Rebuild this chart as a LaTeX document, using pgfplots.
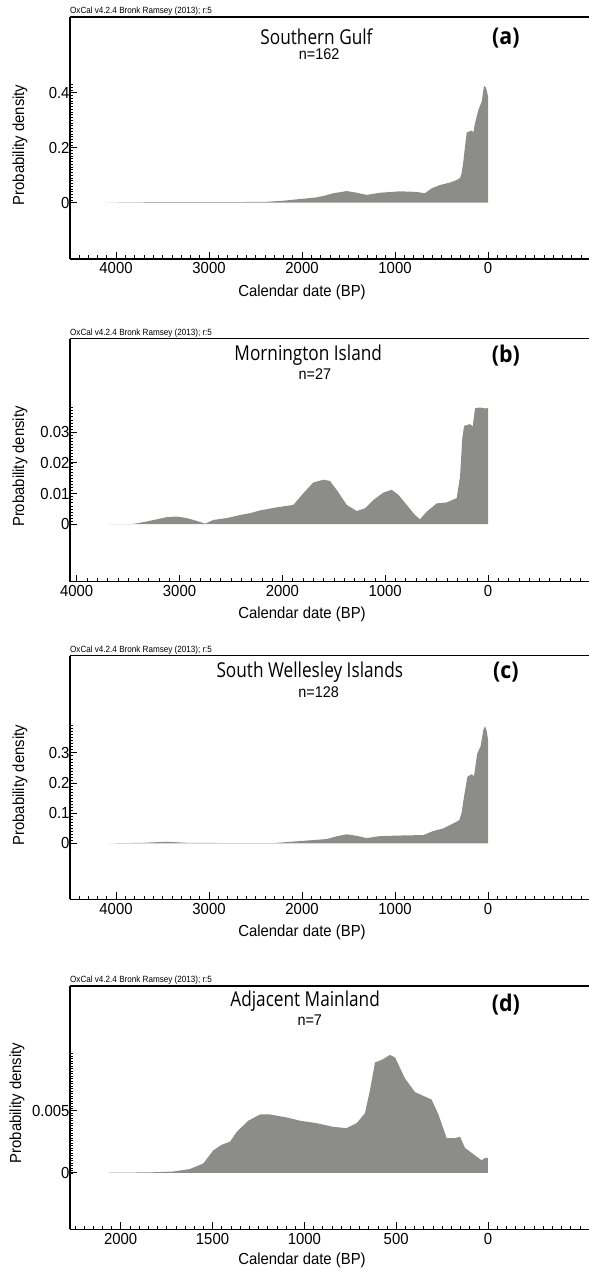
\documentclass[border=0pt]{standalone}
\usepackage{fontspec}
\setmainfont{Liberation Sans}
\newfontfamily\titlefont{Open Sans}
\usepackage{pgfplots}
\pgfplotsset{compat=1.18}
\definecolor{fillgray}{RGB}{140,141,139}
\newcommand{\sq}[1]{\scalebox{0.93}[1]{#1}}
\newcommand{\sqt}[1]{\scalebox{0.84}[1]{#1}}
\pgfplotsset{oxstyle/.style={
  scale only axis, width=519pt,
  x dir=reverse,
  scaled x ticks=false, scaled y ticks=false,
  axis x line=bottom, axis y line=left,
  axis line style={-, line width=1.3pt, black},
  tick align=inside,
  major tick length=7pt, minor tick length=3.5pt,
  every tick/.style={black, line width=0.8pt},
  every minor tick/.append style={line width=0.5pt},
  tick label style={font=\fontsize{16}{16}\selectfont},
  label style={font=\fontsize{16}{16}\selectfont},
  yticklabel style={xshift=3pt},
  xlabel={\sq{Calendar date (BP)}},
  ylabel={\sq{Probability density}},
  xlabel style={at={(axis description cs:0.447,0)}, anchor=center, yshift=-33pt},
  clip=false,
}}
\newcommand{\oxcal}{\node[anchor=south west, inner sep=0pt, font=\fontsize{9}{9}\selectfont] at (axis description cs:0,1) [yshift=1.2pt] {\scalebox{0.9}[1]{OxCal v4.2.4 Bronk Ramsey (2013); r:5}};}
\begin{document}
\begin{tikzpicture}
\useasboundingbox (0,0) rectangle (589pt,1270pt);
% (a)
\begin{axis}[oxstyle, at={(70pt,1011pt)}, anchor=south west, height=242pt,
  xmin=-1086, xmax=4495, ymin=-0.205, ymax=0.675,
  xtick={0,1000,2000,3000,4000}, xticklabels={\sq{0},\sq{1000},\sq{2000},\sq{3000},\sq{4000}},
  minor xtick={-1000,-900,...,4400},
  ytick={0,0.2,0.4}, yticklabels={\sq{0},\sq{0.2},\sq{0.4}},
  minor ytick={0,0.01,...,0.43},
  ylabel style={at={(axis description cs:-0.0963,0.471)}, anchor=center},
]
\addplot[draw=none, fill=fillgray] coordinates {
(4100,0) (3800,0.001) (3500,0.002) (3000,0.002) (2700,0.002) (2380,0.003) (2200,0.007) (2021,0.013) (1842,0.019) (1750,0.026) (1663,0.034) (1520,0.042) (1412,0.036) (1305,0.028) (1161,0.036) (946,0.041) (767,0.039) (677,0.034) (606,0.052) (516,0.064) (409,0.073) (337,0.082) (300,0.09) (283,0.107) (265,0.15) (247,0.204) (229,0.255) (176,0.262) (158,0.255) (140,0.288) (104,0.337) (68,0.367) (43,0.424) (22,0.419) (8,0.40) (0,0.385)
} \closedcycle;
\draw[line width=1.3pt] (axis description cs:0,1) -- (axis description cs:1,1);
\oxcal
\node[anchor=base, font=\titlefont\fontsize{20.5}{20}\selectfont] at (axis description cs:0.475,1) [yshift=-27.3pt] {\sqt{Southern Gulf}};
\node[anchor=base, font=\fontsize{15.5}{16}\selectfont] at (axis description cs:0.48,1) [yshift=-42.7pt] {\sq{n=162}};
\node[anchor=base, font=\titlefont\bfseries\fontsize{23}{23}\selectfont] at (axis description cs:0.84,1) [yshift=-28pt] {\sq{(a)}};
\end{axis}
% (b)
\begin{axis}[oxstyle, at={(70pt,688.3pt)}, anchor=south west, height=243pt,
  xmin=-982, xmax=4065, ymin=-0.0187, ymax=0.0604,
  xtick={0,1000,2000,3000,4000}, xticklabels={\sq{0},\sq{1000},\sq{2000},\sq{3000},\sq{4000}},
  minor xtick={-1000,-900,...,4000},
  ytick={0,0.01,0.02,0.03}, yticklabels={\sq{0},\sq{0.01},\sq{0.02},\sq{0.03}},
  minor ytick={0,0.001,...,0.038},
  ylabel style={at={(axis description cs:-0.0963,0.474)}, anchor=center},
]
\addplot[draw=none, fill=fillgray] coordinates {
(3692,0) (3449,0.0001) (3319,0.0009) (3222,0.0016) (3125,0.0023) (3027,0.0025) (2930,0.0020) (2833,0.0011) (2752,0.0002) (2671,0.0014) (2541,0.0020) (2412,0.0030) (2314,0.0036) (2217,0.0045) (2055,0.0055) (1893,0.0063) (1796,0.0101) (1699,0.0136) (1601,0.0145) (1537,0.0141) (1472,0.0112) (1374,0.0063) (1277,0.0043) (1196,0.0052) (1115,0.0079) (1018,0.0103) (937,0.0112) (872,0.0096) (791,0.0063) (710,0.0030) (661,0.0016) (596,0.0041) (499,0.0068) (402,0.0071) (305,0.0085) (272,0.0155) (250,0.028) (233,0.032) (175,0.0326) (149,0.0318) (126,0.0378) (78,0.0380) (29,0.0377) (0,0.0378)
} \closedcycle;
\draw[line width=1.3pt] (axis description cs:0,1) -- (axis description cs:1,1);
\oxcal
\node[anchor=base, font=\titlefont\fontsize{20.5}{20}\selectfont] at (axis description cs:0.459,1) [yshift=-21.7pt] {\sqt{Mornington Island}};
\node[anchor=base, font=\fontsize{15.5}{16}\selectfont] at (axis description cs:0.472,1) [yshift=-41pt] {\sq{n=27}};
\node[anchor=base, font=\titlefont\bfseries\fontsize{23}{23}\selectfont] at (axis description cs:0.84,1) [yshift=-24.3pt] {\sq{(b)}};
\end{axis}
% (c)
\begin{axis}[oxstyle, at={(70pt,370.7pt)}, anchor=south west, height=243.6pt,
  xmin=-1086, xmax=4495, ymin=-0.185, ymax=0.621,
  xtick={0,1000,2000,3000,4000}, xticklabels={\sq{0},\sq{1000},\sq{2000},\sq{3000},\sq{4000}},
  minor xtick={-1000,-900,...,4400},
  ytick={0,0.1,0.2,0.3}, yticklabels={\sq{0},\sq{0.1},\sq{0.2},\sq{0.3}},
  minor ytick={0,0.01,...,0.39},
  ylabel style={at={(axis description cs:-0.0963,0.468)}, anchor=center},
]
\addplot[draw=none, fill=fillgray] coordinates {
(4082,0) (3706,0.002) (3455,0.0055) (3240,0.002) (2800,0.001) (2308,0.001) (2021,0.0077) (1735,0.0143) (1620,0.024) (1520,0.030) (1412,0.025) (1305,0.0176) (1161,0.024) (946,0.026) (695,0.0276) (588,0.041) (480,0.0496) (373,0.066) (308,0.077) (285,0.10) (258,0.154) (222,0.22) (176,0.229) (151,0.222) (115,0.298) (79,0.322) (50,0.375) (32,0.388) (12,0.37) (0,0.342)
} \closedcycle;
\draw[line width=1.3pt] (axis description cs:0,1) -- (axis description cs:1,1);
\oxcal
\node[anchor=base, font=\titlefont\fontsize{20.5}{20}\selectfont] at (axis description cs:0.462,1) [yshift=-21.7pt] {\sqt{South Wellesley Islands}};
\node[anchor=base, font=\fontsize{15.5}{16}\selectfont] at (axis description cs:0.479,1) [yshift=-42pt] {\sq{n=128}};
\node[anchor=base, font=\titlefont\bfseries\fontsize{23}{23}\selectfont] at (axis description cs:0.84,1) [yshift=-22.7pt] {\sq{(c)}};
\end{axis}
% (d)
\begin{axis}[oxstyle, at={(70pt,40.7pt)}, anchor=south west, height=243.3pt,
  xmin=-550, xmax=2276, ymin=-0.00456, ymax=0.01506,
  xtick={0,500,1000,1500,2000}, xticklabels={\sq{0},\sq{500},\sq{1000},\sq{1500},\sq{2000}},
  minor xtick={-550,-500,...,2250},
  ytick={0,0.005}, yticklabels={\sq{0},\sq{0.005}},
  minor ytick={0,0.0002,...,0.0096},
  xlabel style={yshift=2pt},
  ylabel style={at={(axis description cs:-0.102,0.519)}, anchor=center},
]
\addplot[draw=none, fill=fillgray] coordinates {
(2067,0) (1840,0.00003) (1713,0.0001) (1623,0.0003) (1550,0.00075) (1496,0.0018) (1450,0.00226) (1405,0.0025) (1368,0.0033) (1305,0.0042) (1241,0.0047) (1187,0.0047) (1096,0.00446) (1024,0.0042) (933,0.0040) (842,0.0037) (770,0.0036) (715,0.0040) (670,0.0048) (642,0.0067) (615,0.0089) (579,0.0091) (534,0.0095) (506,0.0093) (452,0.0076) (397,0.0065) (352,0.0062) (307,0.0059) (270,0.0047) (225,0.0028) (180,0.0028) (152,0.0029) (125,0.0020) (80,0.0015) (34,0.0010) (16,0.0012) (0,0.0012)
} \closedcycle;
\draw[line width=1.3pt] (axis description cs:0,1) -- (axis description cs:1,1);
\oxcal
\node[anchor=base, font=\titlefont\fontsize{20.5}{20}\selectfont] at (axis description cs:0.453,1) [yshift=-20.7pt] {\sqt{Adjacent Mainland}};
\node[anchor=base, font=\fontsize{15.5}{16}\selectfont] at (axis description cs:0.462,1) [yshift=-40pt] {\sq{n=7}};
\node[anchor=base, font=\titlefont\bfseries\fontsize{23}{23}\selectfont] at (axis description cs:0.84,1) [yshift=-25.7pt] {\sq{(d)}};
\end{axis}
\end{tikzpicture}
\end{document}
